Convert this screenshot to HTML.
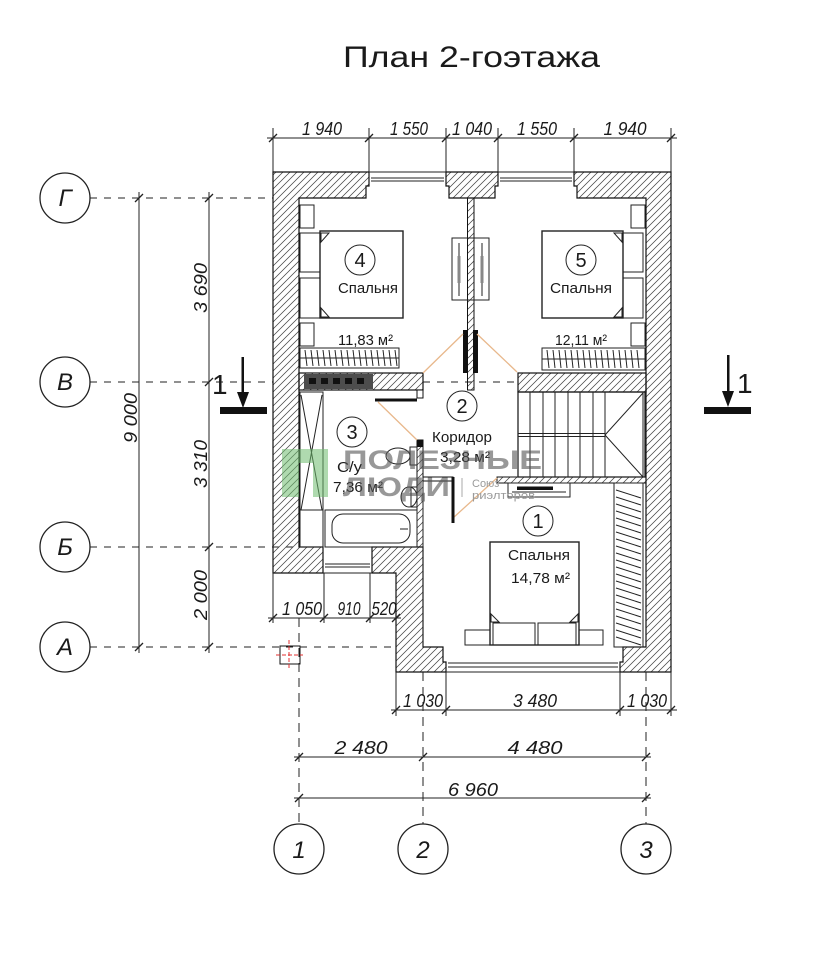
<!DOCTYPE html>
<html><head><meta charset="utf-8">
<style>
html,body{margin:0;padding:0;background:#fff;}
svg{display:block;}
text{font-family:"Liberation Sans","DejaVu Sans",sans-serif;fill:#1a1a1a;}
.d{font-style:italic;font-size:18px;text-anchor:middle;}
.ax{font-style:italic;font-size:24px;text-anchor:middle;}
.rn{font-size:20px;text-anchor:middle;}
.rl{font-size:15px;}
</style></head><body>
<svg width="826" height="960" viewBox="0 0 826 960" xmlns="http://www.w3.org/2000/svg">
<defs>
<pattern id="h" patternUnits="userSpaceOnUse" width="7" height="7">
<path d="M-1,8 L8,-1 M-1,1 L1,-1 M6,8 L8,6" stroke="#444" stroke-width="0.75"/>
</pattern>
</defs>
<rect width="826" height="960" fill="#fff"/>

<!-- Title -->
<text x="343" y="67" font-size="30" textLength="257" lengthAdjust="spacingAndGlyphs">План 2-гоэтажа</text>

<!-- Top dimensions -->
<g stroke="#222" stroke-width="1" fill="none">
<line x1="267" y1="138" x2="677" y2="138"/>
<path d="M273,128V172M369,128V172M446,128V172M498,128V172M574,128V172M671,128V172"/>
<path d="M269,142l8,-8M365,142l8,-8M442,142l8,-8M494,142l8,-8M570,142l8,-8M667,142l8,-8" stroke-width="1.3"/>
</g>
<text class="d" x="322" y="135" textLength="40" lengthAdjust="spacingAndGlyphs">1 940</text>
<text class="d" x="409" y="135" textLength="38" lengthAdjust="spacingAndGlyphs">1 550</text>
<text class="d" x="472" y="135" textLength="40" lengthAdjust="spacingAndGlyphs">1 040</text>
<text class="d" x="537" y="135" textLength="40" lengthAdjust="spacingAndGlyphs">1 550</text>
<text class="d" x="625" y="135" textLength="43" lengthAdjust="spacingAndGlyphs">1 940</text>

<!-- Left axes -->
<g stroke="#222" stroke-width="1" fill="none">
<path d="M90,198H273M90,382H273M423,382H518M90,547H299M90,647H396" stroke-dasharray="7,7"/>
<circle cx="65" cy="198" r="25" stroke-width="1.3"/>
<circle cx="65" cy="382" r="25" stroke-width="1.3"/>
<circle cx="65" cy="547" r="25" stroke-width="1.3"/>
<circle cx="65" cy="647" r="25" stroke-width="1.3"/>
<line x1="139" y1="192" x2="139" y2="653"/>
<line x1="209" y1="192" x2="209" y2="653"/>
<path d="M135,202l8,-8M135,651l8,-8M205,202l8,-8M205,386l8,-8M205,551l8,-8M205,651l8,-8" stroke-width="1.3"/>
</g>
<text class="ax" x="65" y="206">Г</text>
<text class="ax" x="65" y="390">В</text>
<text class="ax" x="65" y="555">Б</text>
<text class="ax" x="65" y="655">А</text>
<text class="d" transform="translate(207,288) rotate(-90)" textLength="50" lengthAdjust="spacingAndGlyphs">3 690</text>
<text class="d" transform="translate(137,418) rotate(-90)" textLength="50" lengthAdjust="spacingAndGlyphs">9 000</text>
<text class="d" transform="translate(207,464) rotate(-90)" textLength="48" lengthAdjust="spacingAndGlyphs">3 310</text>
<text class="d" transform="translate(207,595) rotate(-90)" textLength="50" lengthAdjust="spacingAndGlyphs">2 000</text>

<!-- Section marks -->
<g fill="#111" stroke="none">
<rect x="241.5" y="357" width="2.5" height="38"/>
<polygon points="237,392 249,392 243,408"/>
<rect x="220" y="407" width="47" height="7"/>
<rect x="727" y="355" width="2.5" height="38"/>
<polygon points="722,391 734,391 728,407"/>
<rect x="704" y="407" width="47" height="7"/>
</g>
<text x="212" y="394" font-size="28">1</text>
<text x="737" y="393" font-size="28">1</text>

<!-- Walls -->
<g fill="url(#h)" stroke="#111" stroke-width="1.2">
<path d="M273,172H369V186H366V198H299V547H323V573H273Z"/>
<path d="M446,172H498V186H495V198H449V186H446Z"/>
<path d="M574,172H671V672H620V662H623V647H646V198H577V186H574Z"/>
<path d="M372,547H423V647H443V662H446V672H396V573H372Z"/>
<rect x="299" y="373" width="124" height="17"/>
<rect x="518" y="373" width="128" height="19"/>
<rect x="467.5" y="198" width="6.5" height="192" stroke-width="1"/>
<rect x="417" y="440" width="6" height="107" stroke-width="1"/>
<rect x="497" y="477" width="149" height="6" stroke-width="1"/>
</g>
<!-- dark vent block -->
<rect x="304" y="374" width="69" height="15" fill="#4d4d4d"/>
<g fill="#111"><rect x="309" y="378" width="7" height="6"/><rect x="321" y="378" width="7" height="6"/><rect x="333" y="378" width="7" height="6"/><rect x="345" y="378" width="7" height="6"/><rect x="357" y="378" width="7" height="6"/></g>

<!-- partition door bars -->
<rect x="463" y="330" width="5" height="43" fill="#111"/>
<rect x="473" y="330" width="5" height="43" fill="#111"/>
<rect x="417" y="440" width="6" height="7" fill="#111"/>
<rect x="417" y="390" width="6" height="8" fill="#fff" stroke="#111" stroke-width="1"/>

<!-- Windows -->
<g stroke="#222" stroke-width="1" fill="none">
<path d="M369,172H446M371,178H444M371,181H444"/>
<path d="M498,172H574M500,178H572M500,181H572"/>
<path d="M323,573H372M325,564H370M325,567H370"/>
<path d="M446,672H620M448,663H618M448,667H618"/>
</g>

<!-- Orange door swing lines -->
<g stroke="#e8b88c" stroke-width="1.3" fill="none">
<path d="M423,373L463,334M477,334L517,372M378,402L417,440M453,518L497,478"/>
</g>

<!-- Door leaves -->
<g stroke="#111" fill="none">
<line x1="375" y1="400" x2="417" y2="400" stroke-width="3"/>
<line x1="453" y1="477" x2="453" y2="523" stroke-width="3"/>
<rect x="423" y="477" width="30" height="4" stroke-width="1"/>
</g>

<!-- Bedroom 4 -->
<g stroke="#222" stroke-width="1" fill="none">
<rect x="300" y="205" width="14" height="23"/>
<rect x="300" y="323" width="14" height="23"/>
<rect x="300" y="233" width="20" height="39"/>
<rect x="300" y="278" width="20" height="40"/>
<rect x="320" y="231" width="83" height="87" stroke-width="1.4"/>
<path d="M321,242l8,-9h-8zM321,308l8,9h-8z"/>
<rect x="300" y="348" width="99" height="20"/>
<line x1="300" y1="358" x2="399" y2="358"/>
<path d="M305 350l2 16M311 350l2 16M317 350l2 16M323 350l2 16M329 350l2 16M335 350l2 16M341 350l2 16M347 350l2 16M353 350l2 16M359 350l2 16M365 350l2 16M371 350l2 16M377 350l2 16M383 350l2 16M389 350l2 16M395 350l2 16"/>
<circle cx="360" cy="260" r="15"/>
</g>
<text class="rn" x="360" y="267">4</text>
<text class="rl" x="338" y="293" textLength="60" lengthAdjust="spacingAndGlyphs">Спальня</text>
<text class="rl" x="338" y="345" textLength="55" lengthAdjust="spacingAndGlyphs">11,83 м²</text>

<!-- Sliding door symbols on partition -->
<g stroke="#222" stroke-width="1" fill="none">
<rect x="452" y="238" width="37" height="62"/>
<path d="M459,243V296M482,243V296"/>
</g>
<rect x="457.5" y="256" width="3" height="27" fill="#888"/>
<rect x="480.5" y="256" width="3" height="27" fill="#888"/>

<!-- Bedroom 5 -->
<g stroke="#222" stroke-width="1" fill="none">
<rect x="631" y="205" width="14" height="23"/>
<rect x="631" y="323" width="14" height="23"/>
<rect x="623" y="233" width="20" height="39"/>
<rect x="623" y="278" width="20" height="40"/>
<rect x="542" y="231" width="81" height="87" stroke-width="1.4"/>
<path d="M622,242l-8,-9h8zM622,308l-8,9h8z"/>
<rect x="542" y="348" width="103" height="22"/>
<line x1="542" y1="359" x2="645" y2="359"/>
<path d="M547 350l2 18M553 350l2 18M559 350l2 18M565 350l2 18M571 350l2 18M577 350l2 18M583 350l2 18M589 350l2 18M595 350l2 18M601 350l2 18M607 350l2 18M613 350l2 18M619 350l2 18M625 350l2 18M631 350l2 18M637 350l2 18"/>
<circle cx="581" cy="260" r="15"/>
</g>
<text class="rn" x="581" y="267">5</text>
<text class="rl" x="550" y="293" textLength="62" lengthAdjust="spacingAndGlyphs">Спальня</text>
<text class="rl" x="555" y="345" textLength="52" lengthAdjust="spacingAndGlyphs">12,11 м²</text>

<!-- Stairs -->
<g stroke="#222" stroke-width="1" fill="none">
<rect x="518" y="392" width="127" height="85" stroke-width="1.3"/>
<path d="M518,433.5H605M518,436.5H605"/>
<path d="M530,392V477M543,392V477M555,392V477M568,392V477M580,392V477M593,392V477M605,392V477"/>
<path d="M605,435L643,393M605,435L643,477M643,392V477"/>
</g>

<!-- Bathroom -->
<g stroke="#222" stroke-width="1" fill="none">
<rect x="300" y="392" width="23" height="155"/>
<path d="M301,395L322,510M322,395L301,510M300,510H323"/>
<rect x="325" y="510" width="92" height="37"/>
<rect x="332" y="514" width="78" height="29" rx="11"/>
<path d="M400,529h8"/>
<ellipse cx="398" cy="456" rx="12" ry="8"/>
<rect x="410" y="447" width="7" height="18"/>
<ellipse cx="409" cy="497" rx="8" ry="10"/>
<rect x="411" y="487" width="6" height="20"/>
<circle cx="352" cy="432" r="15"/>
</g>
<text class="rn" x="352" y="439">3</text>
<text class="rl" x="337" y="472" textLength="25" lengthAdjust="spacingAndGlyphs">С/у</text>
<text class="rl" x="333" y="492" textLength="50" lengthAdjust="spacingAndGlyphs">7,36 м²</text>

<!-- Corridor -->
<circle cx="462" cy="406" r="15" fill="none" stroke="#222" stroke-width="1"/>
<text class="rn" x="462" y="413">2</text>
<text class="rl" x="432" y="442" textLength="60" lengthAdjust="spacingAndGlyphs">Коридор</text>
<text class="rl" x="440" y="462" textLength="50" lengthAdjust="spacingAndGlyphs">3,28 м²</text>

<!-- Bedroom 1 -->
<g stroke="#222" stroke-width="1" fill="none">
<rect x="508" y="483" width="62" height="14"/>
<path d="M512,492H566"/>
<rect x="614" y="483" width="29" height="164"/>
<path d="M616 490l25 8M616 497l25 8M616 504l25 8M616 511l25 8M616 518l25 8M616 525l25 8M616 532l25 8M616 539l25 8M616 546l25 8M616 553l25 8M616 560l25 8M616 567l25 8M616 574l25 8M616 581l25 8M616 588l25 8M616 595l25 8M616 602l25 8M616 609l25 8M616 616l25 8M616 623l25 8M616 630l25 8M616 637l25 8"/>
<rect x="490" y="542" width="89" height="103" stroke-width="1.4"/>
<rect x="493" y="623" width="42" height="22"/>
<rect x="538" y="623" width="38" height="22"/>
<rect x="465" y="630" width="25" height="15"/>
<rect x="579" y="630" width="24" height="15"/>
<path d="M491,614l8,8h-8zM578,614l-8,8h8z"/>
<path d="M423,481V647"/>
<circle cx="538" cy="521" r="15"/>
</g>
<rect x="517" y="486.5" width="36" height="3.5" fill="#111"/>
<text class="rn" x="538" y="528">1</text>
<text class="rl" x="508" y="560" textLength="62" lengthAdjust="spacingAndGlyphs">Спальня</text>
<text class="rl" x="511" y="583" textLength="59" lengthAdjust="spacingAndGlyphs">14,78 м²</text>

<!-- Lower-left dimension 1050/910/520 -->
<g stroke="#222" stroke-width="1" fill="none">
<line x1="268" y1="618" x2="401" y2="618"/>
<path d="M273,573V623M324,573V623M370,573V623"/>
<path d="M269,622l8,-8M320,622l8,-8M366,622l8,-8M392,622l8,-8" stroke-width="1.3"/>
<rect x="280" y="646" width="20" height="18" stroke="#111"/>
</g>
<g stroke="#e03030" stroke-width="1" stroke-dasharray="4,2">
<line x1="289" y1="640" x2="289" y2="670"/>
<line x1="276" y1="655" x2="303" y2="655"/>
</g>
<text class="d" x="302" y="615" textLength="40" lengthAdjust="spacingAndGlyphs">1 050</text>
<text class="d" x="349" y="615" textLength="23" lengthAdjust="spacingAndGlyphs">910</text>
<text class="d" x="384" y="615" textLength="25" lengthAdjust="spacingAndGlyphs">520</text>

<!-- Bottom dimensions -->
<g stroke="#222" stroke-width="1" fill="none">
<line x1="391" y1="710" x2="677" y2="710"/>
<path d="M396,672V716M446,672V716M620,672V716M671,672V716"/>
<path d="M392,714l8,-8M442,714l8,-8M616,714l8,-8M667,714l8,-8" stroke-width="1.3"/>
<line x1="294" y1="757" x2="651" y2="757"/>
<line x1="294" y1="798" x2="651" y2="798"/>
<path d="M295,761l8,-8M419,761l8,-8M642,761l8,-8M295,802l8,-8M642,802l8,-8" stroke-width="1.3"/>
<path d="M299,618V824M423,672V824M646,672V824" stroke-dasharray="9,6"/>
<circle cx="299" cy="849" r="25" stroke-width="1.3"/>
<circle cx="423" cy="849" r="25" stroke-width="1.3"/>
<circle cx="646" cy="849" r="25" stroke-width="1.3"/>
</g>
<text class="d" x="423" y="707" textLength="40" lengthAdjust="spacingAndGlyphs">1 030</text>
<text class="d" x="535" y="707" textLength="44" lengthAdjust="spacingAndGlyphs">3 480</text>
<text class="d" x="647" y="707" textLength="40" lengthAdjust="spacingAndGlyphs">1 030</text>
<text class="d" x="361" y="754" textLength="53" lengthAdjust="spacingAndGlyphs">2 480</text>
<text class="d" x="535" y="754" textLength="55" lengthAdjust="spacingAndGlyphs">4 480</text>
<text class="d" x="473" y="796" textLength="50" lengthAdjust="spacingAndGlyphs">6 960</text>
<text class="ax" x="299" y="858">1</text>
<text class="ax" x="423" y="858">2</text>
<text class="ax" x="646" y="858">3</text>

<!-- Watermark -->
<path d="M282,449H328V497H313V463H299V497H282Z" fill="#6dbb6d" opacity="0.55"/>
<text x="343" y="469" font-size="27" font-weight="bold" opacity="0.6" textLength="199" lengthAdjust="spacingAndGlyphs" style="fill:#555">ПОЛЕЗНЫЕ</text>
<text x="343" y="496" font-size="27" font-weight="bold" opacity="0.6" textLength="107" lengthAdjust="spacingAndGlyphs" style="fill:#555">ЛЮДИ</text>
<line x1="462" y1="478" x2="462" y2="497" stroke="#aaa" stroke-width="1"/>
<text x="472" y="487" font-size="11" style="fill:#9a9a9a">Союз</text>
<text x="472" y="499" font-size="11" textLength="63" lengthAdjust="spacingAndGlyphs" style="fill:#9a9a9a">риэлторов</text>
</svg>
</body></html>
